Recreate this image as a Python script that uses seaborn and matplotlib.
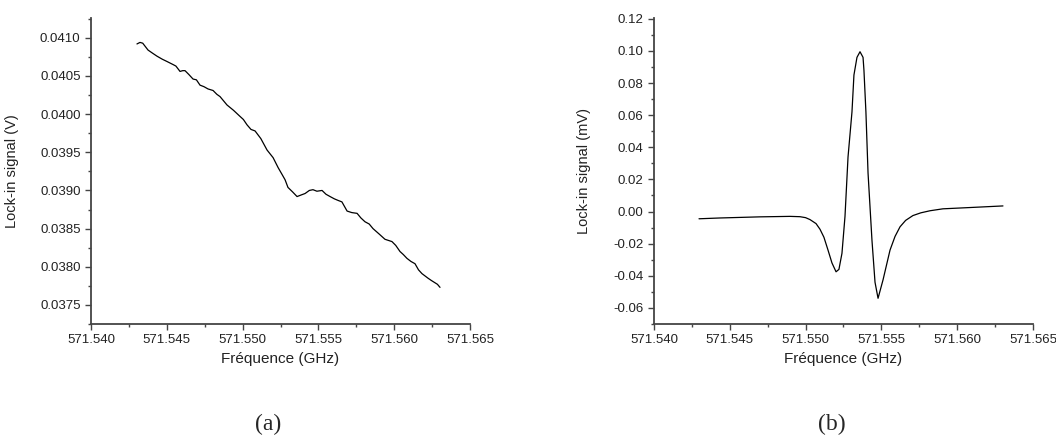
import numpy as np
import pandas as pd
import matplotlib
matplotlib.use("Agg")
import matplotlib.pyplot as plt
import seaborn as sns
from matplotlib.ticker import MultipleLocator, FormatStrFormatter, AutoMinorLocator

# (a) lock-in signal in V, frequency offsets in MHz above 571.540 GHz
freq_a_off = [3.03, 3.23, 3.41, 3.76, 4.05, 4.35, 4.70, 5.01, 5.41, 5.60, 5.87, 6.05, 6.20,
              6.45, 6.73, 6.95, 7.19, 7.45, 7.72, 8.05, 8.30, 8.51, 8.97, 9.40, 9.83, 10.05,
              10.29, 10.55, 10.82, 11.20, 11.61, 12.01, 12.34, 12.60, 12.80, 12.99, 13.30,
              13.59, 13.85, 14.12, 14.40, 14.64, 14.90, 15.24, 15.50, 15.77, 16.05, 16.29,
              16.55, 16.89, 17.20, 17.55, 17.80, 18.07, 18.35, 18.60, 19.00, 19.39, 19.85,
              20.10, 20.38, 20.60, 20.84, 21.10, 21.37, 21.60, 21.83, 22.23, 22.45, 22.69,
              22.85, 23.02]
signal_a = [0.04092, 0.04094, 0.04093, 0.04084, 0.04080, 0.04076, 0.04072, 0.04069, 0.04065,
            0.04063, 0.04056, 0.04057, 0.04057, 0.04052, 0.04046, 0.04045, 0.04038, 0.04036,
            0.04033, 0.04031, 0.04026, 0.04023, 0.04012, 0.04005, 0.03997, 0.03993, 0.03986,
            0.03980, 0.03978, 0.03968, 0.03953, 0.03943, 0.03930, 0.03921, 0.03914, 0.03904,
            0.03898, 0.03892, 0.03894, 0.03896, 0.03900, 0.03901, 0.03899, 0.03900, 0.03895,
            0.03892, 0.03889, 0.03887, 0.03885, 0.03873, 0.03871, 0.03870, 0.03864, 0.03859,
            0.03856, 0.03850, 0.03843, 0.03836, 0.03833, 0.03828, 0.03820, 0.03816, 0.03811,
            0.03807, 0.03804, 0.03796, 0.03791, 0.03785, 0.03782, 0.03779, 0.03777, 0.03773]

# (b) lock-in signal in mV
freq_b_off = [2.97, 4.35, 6.99, 8.97, 9.63, 10.00, 10.29, 10.69, 10.95, 11.21, 11.48, 11.74,
              12.01, 12.20, 12.40, 12.60, 12.80, 13.06, 13.19, 13.39, 13.59, 13.79, 13.85,
              13.98, 14.12, 14.38, 14.58, 14.78, 15.11, 15.57, 15.90, 16.23, 16.60, 17.08,
              17.60, 18.21, 19.06, 20.84, 23.02]
signal_b = [-0.0045, -0.0040, -0.0033, -0.0030, -0.0032, -0.0038, -0.0050, -0.0075, -0.0110,
            -0.0160, -0.0240, -0.0320, -0.0375, -0.0360, -0.0260, -0.0030, 0.0340, 0.0620,
            0.0850, 0.0960, 0.0995, 0.0960, 0.0880, 0.0620, 0.0240, -0.0180, -0.0440,
            -0.0540, -0.0425, -0.0240, -0.0155, -0.0095, -0.0055, -0.0025, -0.0008, 0.0005,
            0.0017, 0.0025, 0.0035]

freq_a = 571.540 + np.array(freq_a_off) / 1000
freq_b = 571.540 + np.array(freq_b_off) / 1000
df_a = pd.DataFrame({"f": freq_a, "s": signal_a})
df_b = pd.DataFrame({"f": freq_b, "s": signal_b})

sns.set_style("ticks")
plt.rcParams["font.family"] = ["Liberation Sans", "DejaVu Sans"]
plt.rcParams["axes.unicode_minus"] = False

fig = plt.figure(figsize=(10.56, 4.38), dpi=100)
ax1 = fig.add_axes([0.0862, 0.2603, 0.3589, 0.6986])
ax2 = fig.add_axes([0.6193, 0.2603, 0.3589, 0.6986])

sns.lineplot(data=df_a, x="f", y="s", ax=ax1, color="black", lw=0.9,
             sort=False, estimator=None)
sns.lineplot(data=df_b, x="f", y="s", ax=ax2, color="black", lw=0.9,
             sort=False, estimator=None)

ax1.set_ylim(0.03725, 0.04126)
ax1.yaxis.set_major_locator(MultipleLocator(0.0005))
ax1.yaxis.set_major_formatter(FormatStrFormatter("%.4f"))
ax1.set_ylabel("Lock-in signal (V)", fontsize=10.5, color="#222222")
ax1.yaxis.set_label_coords(-0.19, 0.5)

ax2.set_ylim(-0.07, 0.1205)
ax2.yaxis.set_major_locator(MultipleLocator(0.02))
ax2.yaxis.set_major_formatter(FormatStrFormatter("%.2f"))
ax2.set_ylabel("Lock-in signal (mV)", fontsize=10.5, color="#222222")
ax2.yaxis.set_label_coords(-0.166, 0.5)

for ax in (ax1, ax2):
    ax.set_xlim(571.540, 571.565)
    ax.xaxis.set_major_locator(MultipleLocator(0.005))
    ax.xaxis.set_major_formatter(FormatStrFormatter("%.3f"))
    ax.xaxis.set_minor_locator(AutoMinorLocator(2))
    ax.yaxis.set_minor_locator(AutoMinorLocator(2))
    ax.set_xlabel("Fréquence (GHz)", fontsize=11, color="#222222", labelpad=4)
    sns.despine(ax=ax)
    for sp in ("left", "bottom"):
        ax.spines[sp].set_color("#444444")
        ax.spines[sp].set_linewidth(1.3)
    ax.tick_params(which="major", length=4, width=1, color="#444444",
                   labelsize=9.5, labelcolor="#222222")
    ax.tick_params(which="minor", length=2.2, width=1, color="#444444")

fig.text(0.254, 0.03, "(a)", fontsize=17, family="Liberation Serif", ha="center", va="center")
fig.text(0.788, 0.03, "(b)", fontsize=17, family="Liberation Serif", ha="center", va="center")

fig.savefig("out.png", dpi=100)
